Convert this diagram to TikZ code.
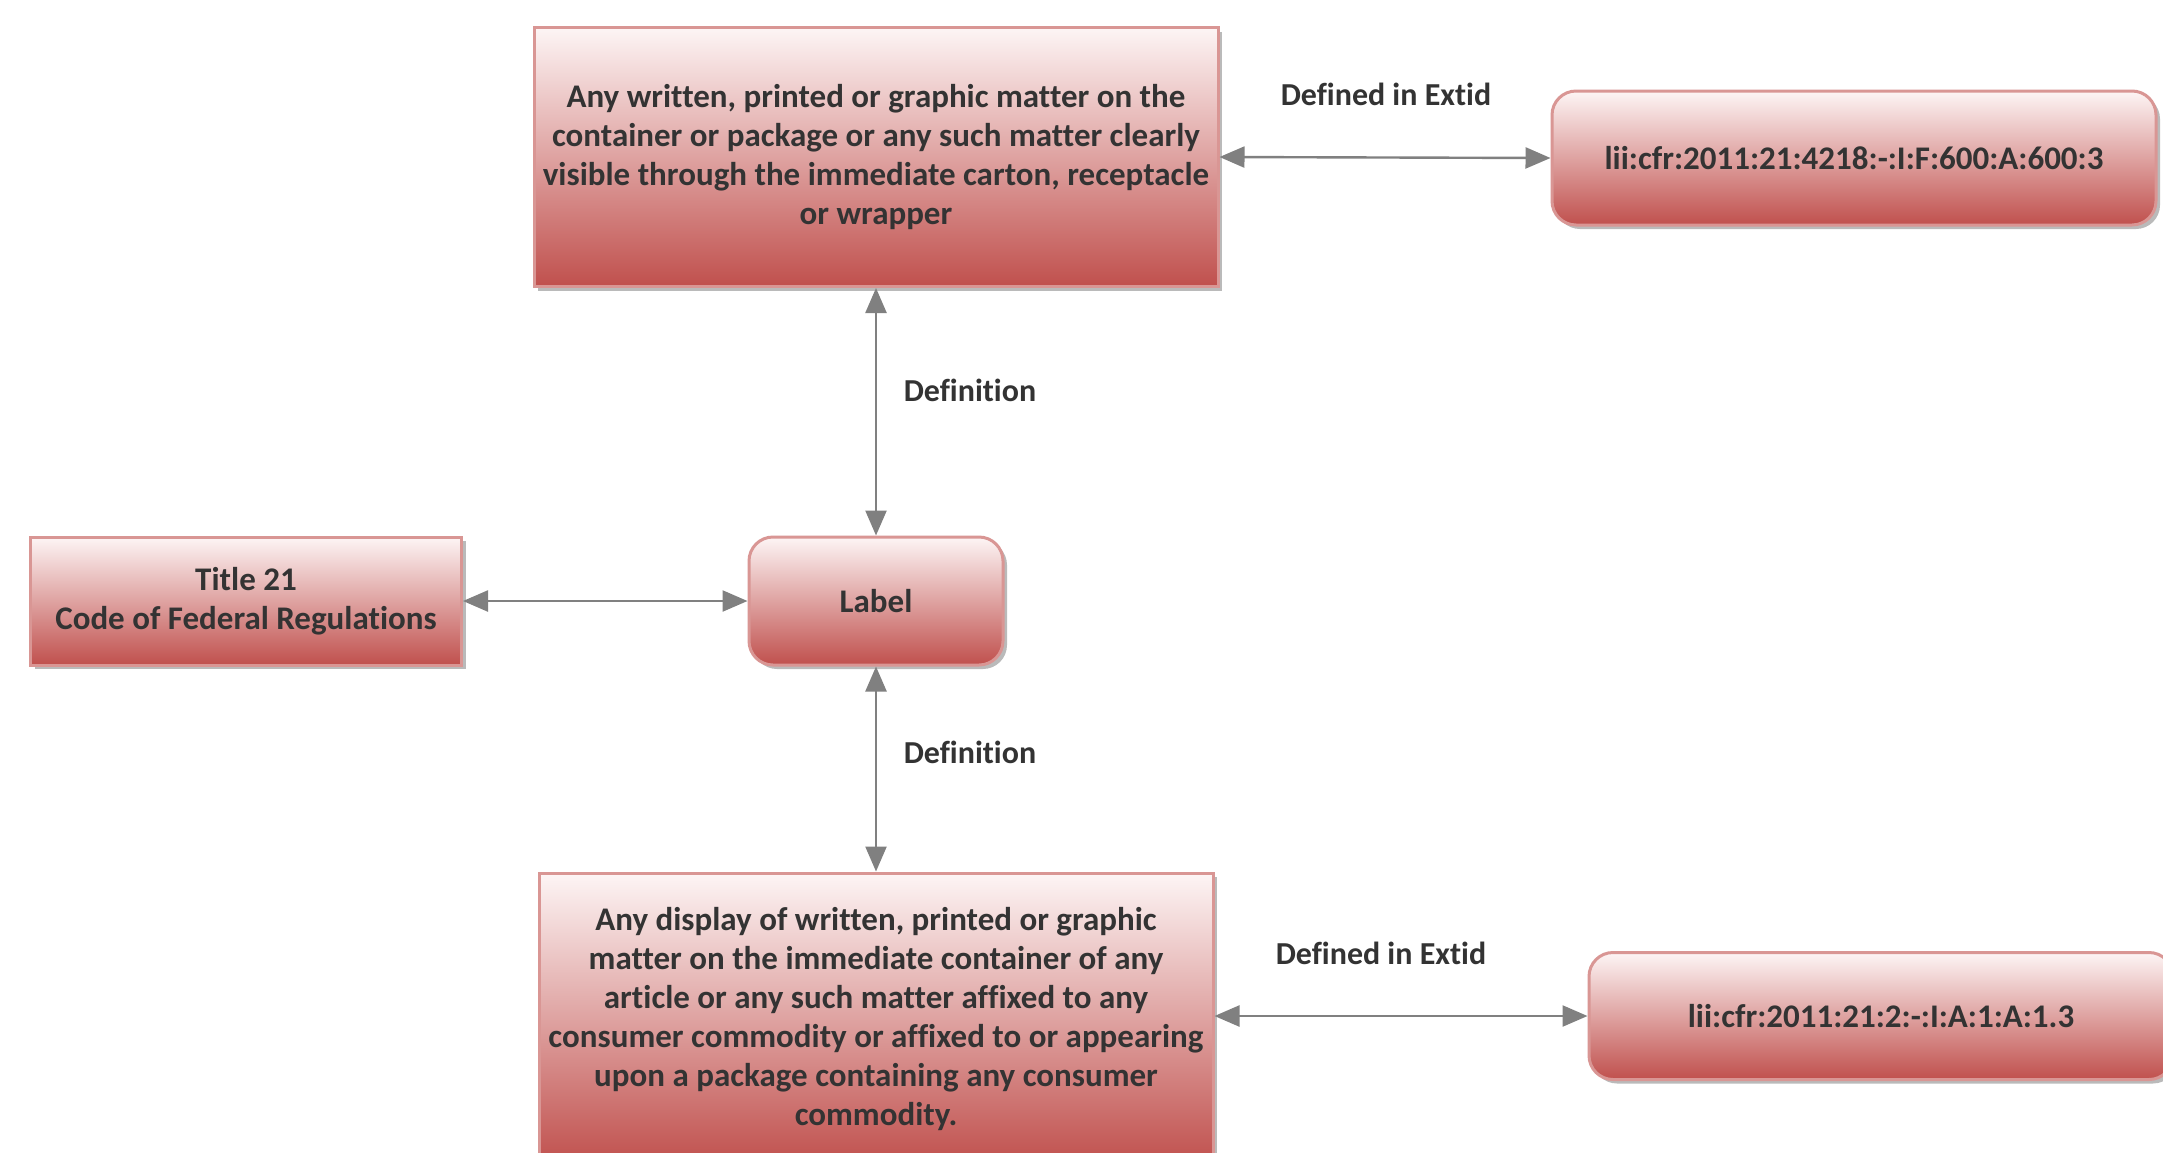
\documentclass[tikz,border=0pt]{standalone}
\usepackage{fontspec}
\setmainfont[Ligatures={NoCommon}]{Carlito}
\usetikzlibrary{arrows.meta,shadows}
\definecolor{boxtop}{RGB}{253,245,245}
\definecolor{boxbot}{RGB}{192,80,77}
\definecolor{boxedge}{RGB}{217,150,148}
\definecolor{txt}{RGB}{51,51,51}
\definecolor{conn}{RGB}{128,128,128}
\tikzset{
  redbox/.style={draw=boxedge, line width=3pt, top color=boxtop, bottom color=boxbot,
    align=center, font=\bfseries\fontsize{33}{39}\selectfont, text=txt, inner sep=0pt,
    drop shadow={opacity=0.45, shadow xshift=4pt, shadow yshift=-4pt, fill=black!60}},
  roundbox/.style={redbox, rounded corners=24pt},
  edgelabel/.style={font=\bfseries\fontsize{32}{39}\selectfont, text=txt, inner sep=0pt},
  conn/.style={draw=conn, line width=2.4pt, {Triangle[length=25pt,width=21pt]}-{Triangle[length=25pt,width=21pt]}}
}
\begin{document}
\begin{tikzpicture}[x=1pt,y=-1pt]
\useasboundingbox (0,0) rectangle (2163,1152);
\fill[white] (0,0) rectangle (2163,1152);
\node[redbox, minimum width=684pt, minimum height=259pt] (top) at (876,157)
  {Any written, printed or graphic matter on the\\container or package or any such matter clearly\\visible through the immediate carton, receptacle\\or wrapper};
\node[roundbox, minimum width=604pt, minimum height=134pt] (topr) at (1854,158)
  {lii:cfr:2011:21:4218:-:I:F:600:A:600:3};
\node[roundbox, minimum width=254pt, minimum height=128pt] (label) at (876,601) {Label};
\node[redbox, minimum width=431pt, minimum height=128pt] (title) at (246,601)
  {Title 21\\Code of Federal Regulations};
\node[redbox, minimum width=674pt, minimum height=292pt] (bot) at (876,1019)
  {Any display of written, printed or graphic\\matter on the immediate container of any\\article or any such matter affixed to any\\consumer commodity or affixed to or appearing\\upon a package containing any consumer\\commodity.};
\node[roundbox, minimum width=584pt, minimum height=127pt] (botr) at (1881,1016)
  {lii:cfr:2011:21:2:-:I:A:1:A:1.3};
\draw[conn] (top.east) -- (topr.west);
\draw[conn] (top.south) -- (label.north);
\draw[conn] (label.south) -- (bot.north);
\draw[conn] (title.east) -- (label.west);
\draw[conn] (bot.east |- botr.west) -- (botr.west);
\node[edgelabel] (e1) at (1386,94) {Defined in Extid};
\node[edgelabel] (e2) at (970,390) {Definition};
\node[edgelabel] (e3) at (970,752) {Definition};
\node[edgelabel] (e4) at (1381,953) {Defined in Extid};
\end{tikzpicture}
\end{document}
